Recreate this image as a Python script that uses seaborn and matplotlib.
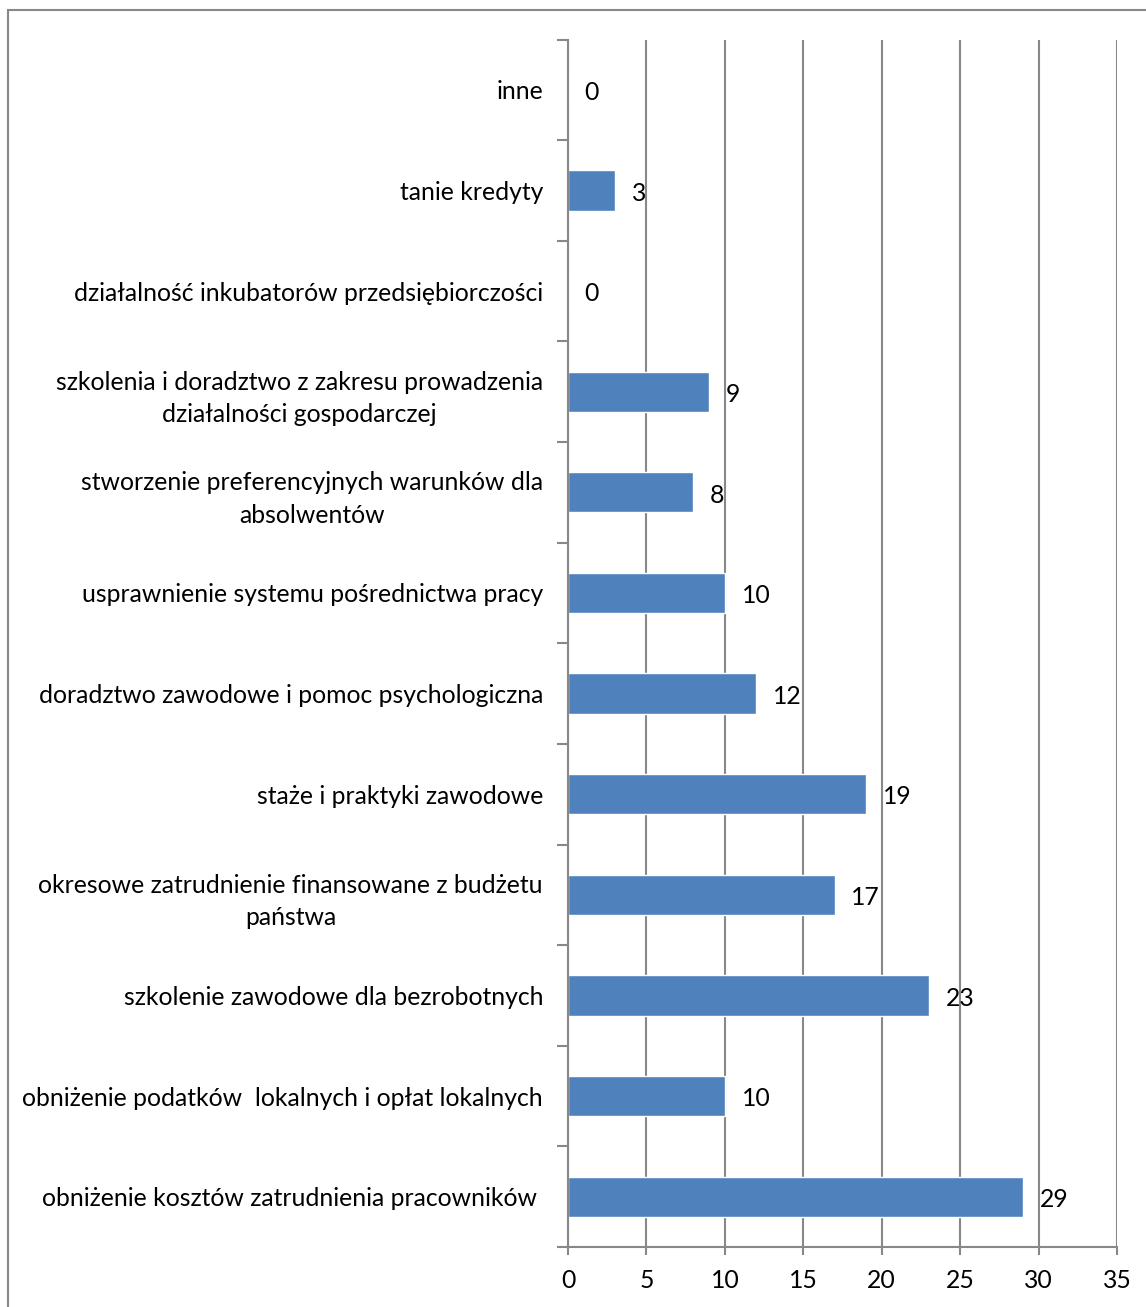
import numpy as np
import pandas as pd
import matplotlib
matplotlib.use("Agg")
import matplotlib.pyplot as plt
import seaborn as sns
from matplotlib.patches import Rectangle

# Data (top to bottom as shown)
categories = [
    "inne",
    "tanie kredyty",
    "działalność inkubatorów przedsiębiorczości",
    "szkolenia i doradztwo z zakresu prowadzenia\ndziałalności gospodarczej",
    "stworzenie preferencyjnych warunków dla\nabsolwentów",
    "usprawnienie systemu pośrednictwa pracy",
    "doradztwo zawodowe i pomoc psychologiczna",
    "staże i praktyki zawodowe",
    "okresowe zatrudnienie finansowane z budżetu\npaństwa",
    "szkolenie zawodowe dla bezrobotnych",
    "obniżenie podatków  lokalnych i opłat lokalnych",
    "obniżenie kosztów zatrudnienia pracowników ",
]
values = [0, 3, 0, 9, 8, 10, 12, 19, 17, 23, 10, 29]
x_ticks = [0, 5, 10, 15, 20, 25, 30, 35]

BAR_COLOR = "#4F81BD"
GRID_COLOR = "#888888"
FS = 17.8

sns.set_theme(style="white")
plt.rcParams['font.family'] = ['Lato', 'DejaVu Sans']
plt.rcParams['text.color'] = 'black'
plt.rcParams['xtick.color'] = GRID_COLOR
plt.rcParams['ytick.color'] = GRID_COLOR
plt.rcParams['xtick.labelcolor'] = 'black'
plt.rcParams['ytick.labelcolor'] = 'black'

df = pd.DataFrame({"cat": categories, "val": values})

fig = plt.figure(figsize=(11.46, 13.07), dpi=100)
ax = fig.add_axes([568 / 1146, 1 - 1247 / 1307, (1117 - 568) / 1146, (1247 - 39.5) / 1307])

sns.barplot(data=df, x="val", y="cat", order=categories, color=BAR_COLOR,
            width=0.4, saturation=1, ax=ax, orient="h")

ax.set_xlim(0, 35)
ax.set_ylim(len(categories) - 0.5, -0.5)
ax.set_xticks(x_ticks)
ax.set_xlabel("")
ax.set_ylabel("")

# vertical gridlines
ax.xaxis.grid(True, color=GRID_COLOR, linewidth=1.5)
ax.yaxis.grid(False)
ax.set_axisbelow(True)

for s in ["top", "right"]:
    ax.spines[s].set_visible(False)
for s in ["left", "bottom"]:
    ax.spines[s].set_color(GRID_COLOR)
    ax.spines[s].set_linewidth(1.5)

# category boundary ticks on y axis
ax.set_yticks(np.arange(-0.5, len(categories), 1.0), minor=True)
ax.tick_params(axis="y", which="minor", length=8, width=1.5, color=GRID_COLOR, left=True)
ax.tick_params(axis="y", which="major", length=0, pad=18, labelsize=FS)
ax.tick_params(axis="x", which="major", length=6, width=1.5, color=GRID_COLOR,
               bottom=True, pad=10, labelsize=FS)
for lbl in ax.get_yticklabels():
    lbl.set_multialignment("center")
    lbl.set_linespacing(1.5)

# value labels
for i, v in enumerate(values):
    ax.annotate(str(v), xy=(v, i), xytext=(12, -2), textcoords="offset points",
                ha="left", va="center", fontsize=FS, color="black")

# outer border (cut off at right and bottom)
fig.patches.append(Rectangle((8 / 1146, -0.05), 1.2, 1 - 10 / 1307 + 0.05,
                             transform=fig.transFigure, fill=False,
                             edgecolor=GRID_COLOR, linewidth=1.5))

fig.savefig("out.png", dpi=100, facecolor="white")
